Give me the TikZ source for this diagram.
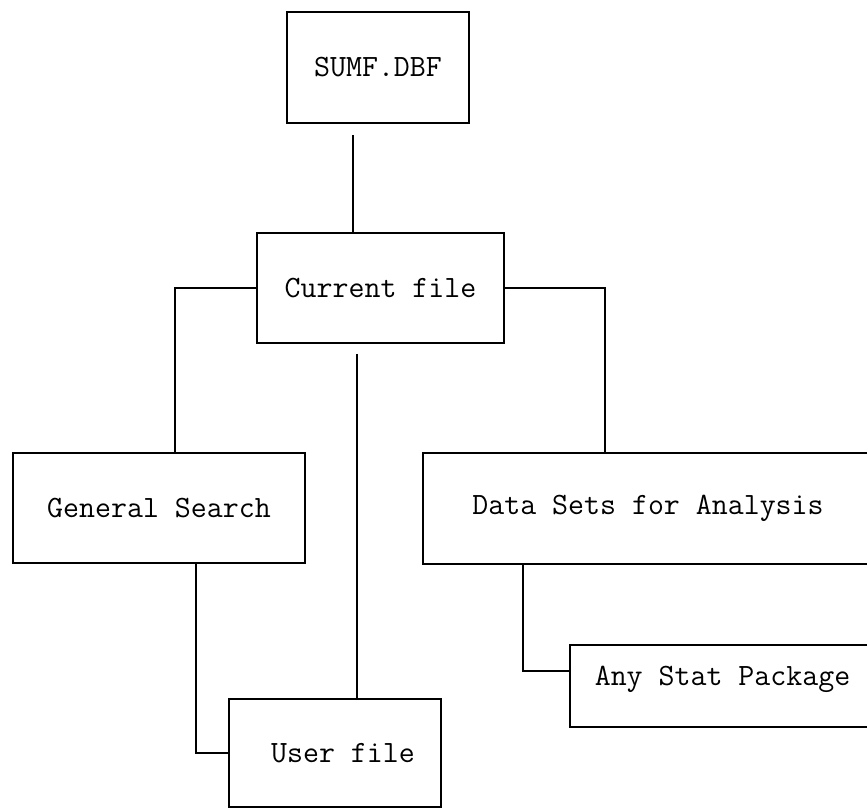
\documentclass[tikz,border=0pt]{standalone}
\usepackage{fontspec}
\usepackage{tikz}
\usetikzlibrary{calc}

\begin{document}
\begin{tikzpicture}[x=1pt,y=-1pt,
    box/.style={draw, line width=1.6pt, inner sep=0pt, font=\ttfamily\fontsize{31}{36}\selectfont},
    wire/.style={line width=1.6pt}]
\useasboundingbox (0,0) rectangle (867,807);
\clip (0,0) rectangle (867,807);

% Boxes
\node[box, minimum width=182, minimum height=111] (sumf) at (378,67.5) {SUMF.DBF};
\node[box, minimum width=247, minimum height=110] (cur) at (380.5,288) {Current file};
\node[box, minimum width=292, minimum height=110] (gen) at (159,508) {General Search};
\node[box, minimum width=450, minimum height=111] (data) at (648,508.5) {Data Sets for Analysis};
\node[box, minimum width=212, minimum height=108] (user) at (335,753) {~User file};
\node[box, minimum width=305, text height=40, text depth=42] (stat) at (722.5,686) {Any Stat Package};

% Connectors
\draw[wire, shorten <=11pt] ($(sumf.south)+(-25,0)$) -- ($(cur.north)+(-27.5,0)$);
\draw[wire] (cur.west) -| ($(gen.north)+(16,0)$);
\draw[wire] (cur.east) -| ($(data.north)+(-43,0)$);
\draw[wire, shorten <=10pt] ($(cur.south)+(-23.5,0)$) -- ($(user.north)+(22,0)$);
\draw[wire] ($(gen.south)+(37,0)$) |- (user.west);
\draw[wire] ($(data.south)+(-125,0)$) |- ($(stat.north west)+(0,27)$);
\end{tikzpicture}
\end{document}
